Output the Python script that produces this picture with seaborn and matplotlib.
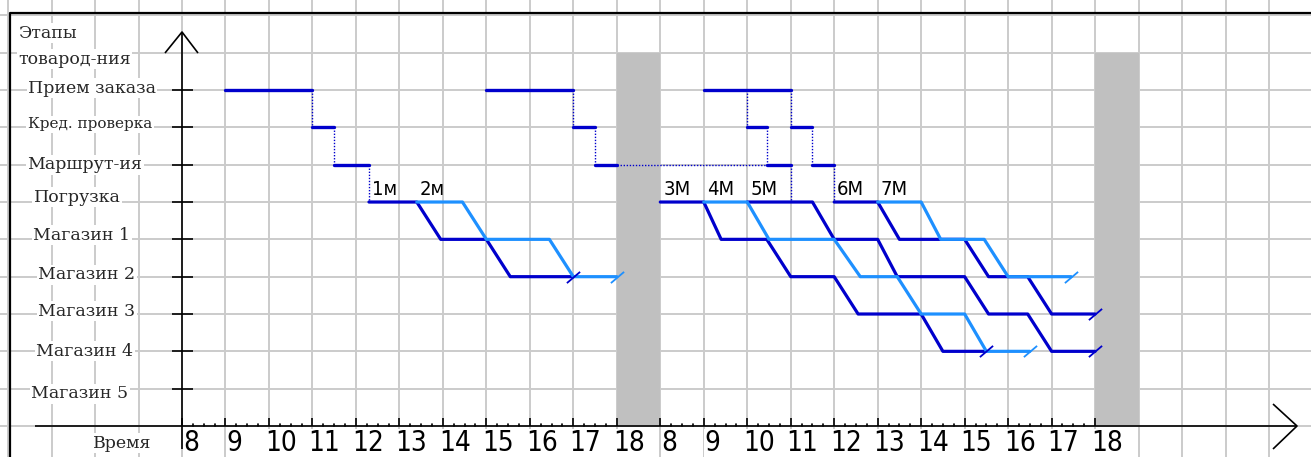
import numpy as np
import pandas as pd
import matplotlib
matplotlib.use("Agg")
import matplotlib.pyplot as plt
import seaborn as sns

# ---------------------------------------------------------------------------
# Данные
# ---------------------------------------------------------------------------

# этапы снизу вверх (уровни 1..9)
stage_labels = ["Магазин 5", "Магазин 4", "Магазин 3", "Магазин 2", "Магазин 1",
                "Погрузка", "Маршрут-ия", "Кред. проверка", "Прием заказа"]
LOAD = 6                       # уровень «Погрузка»
hours = list(range(8, 19))     # рабочий день 8..18
n_days = 2

# отгрузки: день, тон, участки (начало, конец) от погрузки вниз по магазинам
ship_names = ["1м", "2м", "3М", "4М", "5М", "6М", "7М"]
ship_day = [0, 0, 1, 1, 1, 1, 1]
ship_tone = ["dark", "light", "dark", "light", "dark", "dark", "light"]
ship_legs = [
    [(12.3, 13.4), (13.95, 15.0), (15.55, 17.0)],
    [(13.4, 14.45), (15.0, 16.45), (17.0, 18.0)],
    [(8.0, 9.0), (9.4, 10.45), (11.0, 12.0), (12.55, 14.0), (14.5, 15.5)],
    [(9.0, 10.0), (10.5, 12.0), (12.6, 13.45), (14.0, 15.0), (15.5, 16.5)],
    [(10.0, 11.5), (12.0, 13.0), (13.45, 15.0), (15.55, 16.45), (17.0, 18.0)],
    [(12.0, 13.0), (13.5, 15.0), (15.55, 16.45), (17.0, 18.0)],
    [(13.0, 14.0), (14.45, 15.45), (16.0, 17.45)],
]

# обработка заказов: прием, кред. проверка, маршрутизация
order_day = [0, 0, 1, 1]
order_priem = [(9.0, 11.0), (15.0, 17.0), (9.0, 11.0), None]
order_kred = [(11.0, 11.5), (17.0, 17.5), (10.0, 10.45), (11.0, 11.5)]
order_marsh = [(11.5, 12.3), (17.5, 18.0), (10.45, 11.0), (11.5, 12.0)]
carry_order = 1                # маршрутизация переходит на следующий день
carry_until = (10.45, 1)

DARK = "#0000CC"
LIGHT = "#1E90FF"
GRID = "#CBCBCB"
NIGHT = "#C0C0C0"

# ---------------------------------------------------------------------------
# Геометрия (пиксели картинки -> координаты данных)
# ---------------------------------------------------------------------------
W, H = 1311, 457
X0, Y0 = 182, 426              # начало осей
SX, SY = 43.48, 37.33          # пикс. на час / на уровень


def T(h, d):
    return h - 8 + 11 * d


def px(x):
    return (x - X0) / SX


def py(y):
    return (Y0 - y) / SY


sns.set_style("white")
plt.rcParams["font.family"] = ["DejaVu Sans"]
NARROW = dict(family="DejaVu Sans", fontstretch="condensed", fontweight="light")

fig = plt.figure(figsize=(W / 100, H / 100), dpi=100)
ax = fig.add_axes([0, 0, 1, 1])
ax.set_xlim(px(0), px(W))
ax.set_ylim(py(H), py(0))
ax.set_axis_off()

# сетка
for gx in range(int(np.floor(px(0))), int(np.ceil(px(W))) + 1):
    ax.axvline(gx, color=GRID, lw=1.4, zorder=0)
for gy in range(0, 12):
    ax.axhline(gy, color=GRID, lw=1.4, zorder=0)

# ночные промежутки
for d in range(n_days):
    ax.fill_between([T(18, d), T(8, d + 1)], 0, 10, color=NIGHT, lw=0, zorder=1)

# --- отгрузки ---
rows = []
for i, legs in enumerate(ship_legs):
    for k, (s, e) in enumerate(legs):
        lvl = LOAD - k
        rows.append((i, ship_tone[i], T(s, ship_day[i]), lvl))
        rows.append((i, ship_tone[i], T(e, ship_day[i]), lvl))
ship_df = pd.DataFrame(rows, columns=["ship", "tone", "t", "level"])
sns.lineplot(data=ship_df, x="t", y="level", units="ship", hue="tone",
             palette={"dark": DARK, "light": LIGHT}, estimator=None, sort=False,
             legend=False, lw=2.3, zorder=3, ax=ax)

# концы отгрузок — косые засечки
slash = [(-1.0, -0.85), (1.0, 0.85)]
for i, legs in enumerate(ship_legs):
    end = legs[-1][1]
    ax.plot(T(end, ship_day[i]), LOAD - len(legs) + 1, marker=slash, ms=9.5,
            mec=DARK if ship_tone[i] == "dark" else LIGHT, mew=1.3, zorder=4)
    ax.text(T(legs[0][0], ship_day[i]) + px(X0 + 3), LOAD + py(Y0 - 3), ship_names[i],
            ha="left", va="bottom", fontsize=14.5, color="black", zorder=5, **NARROW)

# --- обработка заказов ---
rows = []
seg = 0
for j in range(len(order_day)):
    for lvl, part in ((9, order_priem[j]), (8, order_kred[j]), (7, order_marsh[j])):
        if part is None:
            continue
        rows.append((seg, T(part[0], order_day[j]), lvl))
        rows.append((seg, T(part[1], order_day[j]), lvl))
        seg += 1
order_df = pd.DataFrame(rows, columns=["seg", "t", "level"])
sns.lineplot(data=order_df, x="t", y="level", units="seg", estimator=None,
             sort=False, color=DARK, lw=2.4, zorder=3, ax=ax)

dot = dict(color=DARK, lw=1.0, ls=(0, (1, 1.2)), zorder=3)
for j in range(len(order_day)):
    d = order_day[j]
    ax.plot([T(order_kred[j][0], d)] * 2, [9, 8], **dot)
    ax.plot([T(order_marsh[j][0], d)] * 2, [8, 7], **dot)
    if j == carry_order:
        ax.plot([T(order_marsh[j][1], d), T(*carry_until)], [7, 7], **dot)
    else:
        ax.plot([T(order_marsh[j][1], d)] * 2, [7, 6], **dot)

# --- оси ---
axis = dict(color="black", lw=1.2, zorder=4, solid_capstyle="butt")
tip_y = py(32)
ax.plot([0, 0], [py(449), tip_y], **axis)
ax.plot([px(165), 0, px(198)], [py(53), tip_y, py(53)], **axis)
tip_x = px(1297)
ax.plot([px(35), tip_x], [0, 0], **axis)
ax.plot([px(1273), tip_x, px(1273)], [py(404), 0, py(449)], **axis)

for lvl in range(1, len(stage_labels) + 1):
    ax.plot([px(172), px(193)], [lvl, lvl], **axis)

for d in range(n_days):
    for h in hours:
        t = T(h, d)
        ax.plot([t, t], [0, py(Y0 - 8)], **axis)
        if h < hours[-1]:
            for q in (0.25, 0.5, 0.75):
                ax.plot([t + q, t + q], [0, py(Y0 - 2.5)], color="black", lw=1.2, zorder=4)
        ax.text(t + (px(X0 - 4) if h >= 10 else px(X0 + 1)), py(429), str(h),
                ha="left", va="top", fontsize=20, color="black", zorder=5,
                bbox=dict(facecolor="white", edgecolor="none", pad=0.2), **NARROW)

# рамка
frame = dict(color="black", lw=1.6, zorder=6, transform=ax.transAxes, clip_on=False)
ax.plot([10 / W, 10 / W, 1.01], [-0.01, 1 - 13 / H, 1 - 13 / H], **frame)

# --- подписи этапов ---
label_x = [80, 85, 87, 87, 82, 77, 85, 90, 92]
label_dy = [-5, 0, 3, 2, 4, 5, 0, 3, 2]
for lvl, (name, lx, dy) in enumerate(zip(stage_labels, label_x, label_dy), start=1):
    ax.text(px(lx), lvl + dy / SY, name, ha="center", va="center",
            fontsize=11 if name.startswith("Кред") else 12.5, family="DejaVu Serif",
            zorder=5, bbox=dict(facecolor="white", edgecolor="none", pad=1.0))

ax.text(px(18), py(33), "Этапы", ha="left", va="center", fontsize=12.5,
        family="DejaVu Serif", zorder=5,
        bbox=dict(facecolor="white", edgecolor="none", pad=1.0))
ax.text(px(18), py(59), "товарод-ния", ha="left", va="center", fontsize=12.5,
        family="DejaVu Serif", zorder=5,
        bbox=dict(facecolor="white", edgecolor="none", pad=1.0))
ax.text(px(122), py(443), "Время", ha="center", va="center", fontsize=12.5,
        family="DejaVu Serif", zorder=5,
        bbox=dict(facecolor="white", edgecolor="none", pad=1.0))

plt.savefig("out.png", dpi=100)
plt.close(fig)
